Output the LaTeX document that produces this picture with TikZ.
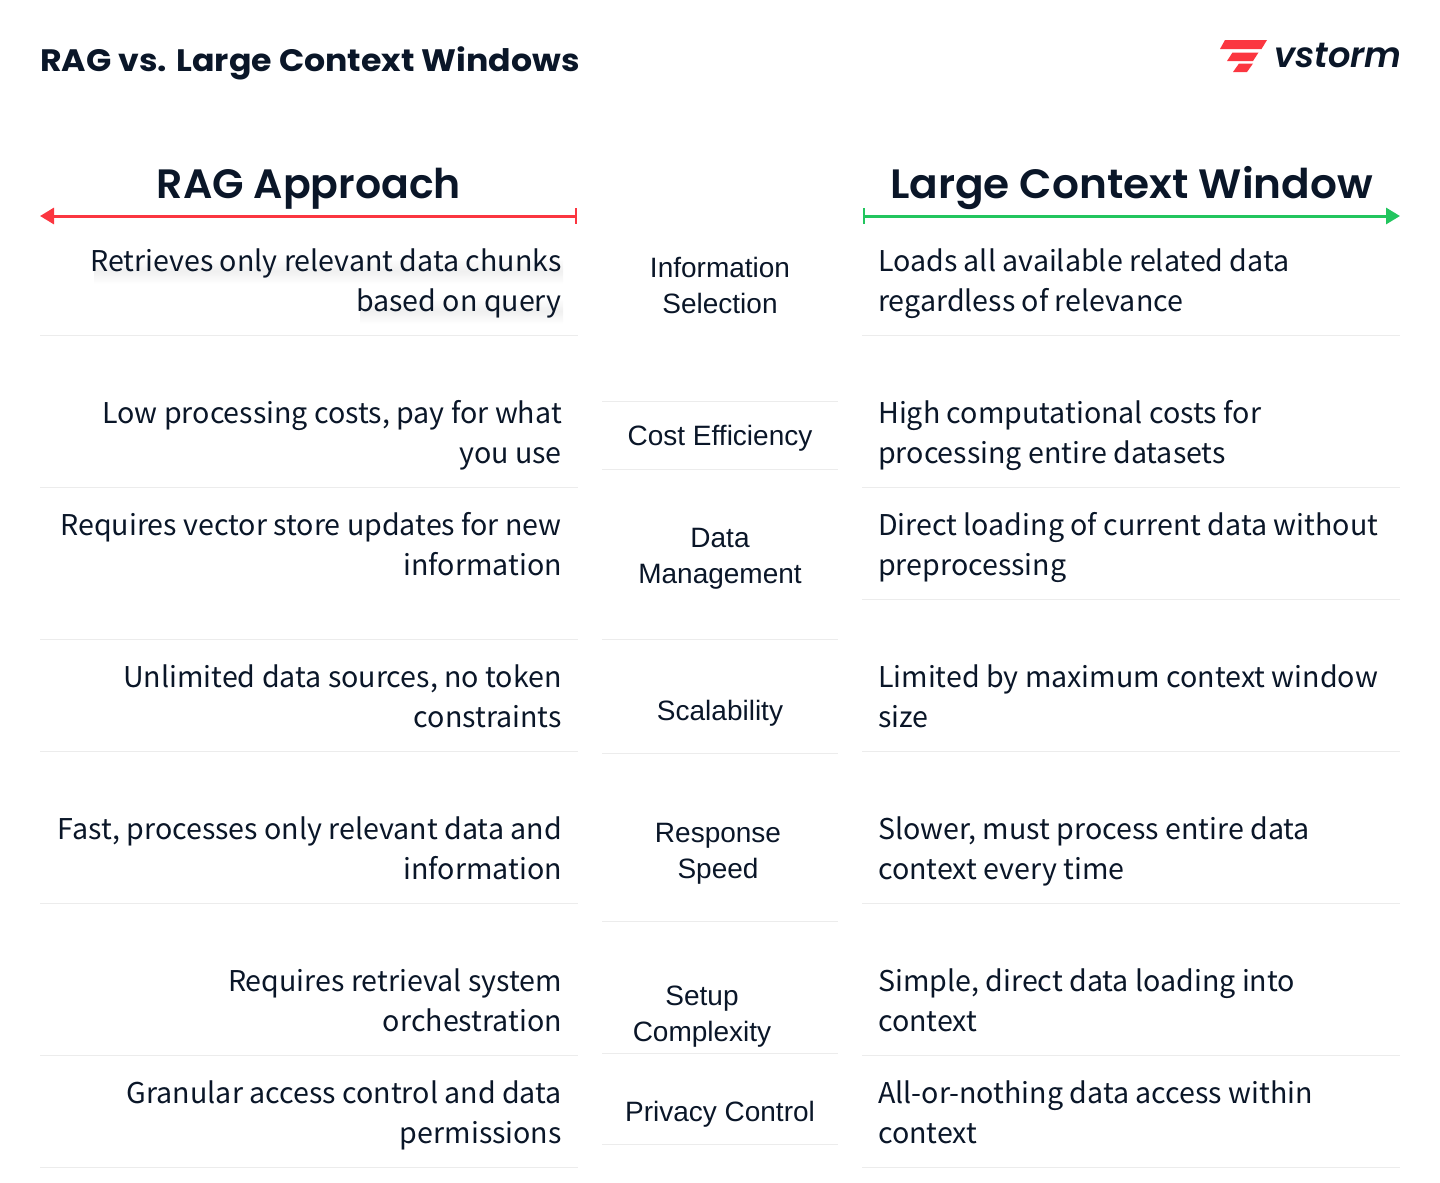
\documentclass[tikz,border=0pt]{standalone}
\usepackage{fontspec}
\usetikzlibrary{arrows.meta}
\setmainfont{Noto Sans CJK SC}
\newfontfamily\titlefont{Poppins}[BoldFont={Poppins Bold},BoldFeatures={FakeStretch=1.07}]
\newfontfamily\ragheadfont{Poppins}[BoldFont={Poppins SemiBold}]
\newfontfamily\lcwheadfont{Poppins}[BoldFont={Poppins SemiBold},BoldFeatures={FakeStretch=1.03}]
\newfontfamily\critfont{Liberation Sans}
\newfontfamily\logofont{Poppins}[ItalicFont={Poppins SemiBold Italic}]
\definecolor{inkblue}{HTML}{0A1628}
\definecolor{ragred}{HTML}{FB3640}
\definecolor{lcwgreen}{HTML}{22C55E}
\definecolor{rulegray}{HTML}{ECECEC}
\begin{document}
\begin{tikzpicture}[x=1pt,y=-1pt,>=Stealth,
    ragcell/.style={anchor=east,align=right,inner sep=0pt,text=inkblue,font=\fontsize{28.6}{40}\selectfont},
    lcwcell/.style={anchor=west,align=left,inner sep=0pt,text=inkblue,font=\fontsize{28.6}{40}\selectfont},
    critcell/.style={align=center,inner sep=0pt,text=inkblue,font=\critfont\fontsize{28}{36}\selectfont},
    headcell/.style={anchor=base,inner sep=0pt,text=inkblue},
    rowrule/.style={draw=rulegray,line width=1pt},
    every node/.append style={execute at begin node=\strut,execute at end node=\strut},
    softband/.style={top color=white,bottom color=white,middle color=black!6}]
        \useasboundingbox (0,0) rectangle (1440,1183);

        \node[anchor=base west,inner sep=0pt,text=inkblue,font=\titlefont\bfseries\fontsize{31}{36}\selectfont] (title) at (40,71) {RAG vs. Large Context Windows};

        \fill[ragred] (1225,40) -- (1267,40) -- (1261.5,49) -- (1220,49) -- cycle;
        \fill[ragred] (1232.5,52.5) -- (1258.5,52.5) -- (1253,61) -- (1227,61) -- cycle;
        \fill[ragred] (1239,63.5) -- (1253,63.5) -- (1247,72) -- (1233,72) -- cycle;
        \node[anchor=base west,inner sep=0pt,text=inkblue,font=\logofont\itshape\fontsize{35.2}{40}\selectfont] (logo) at (1274,67) {vstorm};

        \node[headcell,font=\ragheadfont\bfseries\fontsize{41}{48}\selectfont] (raghead) at (309,198) {RAG Approach};
        \node[headcell,font=\lcwheadfont\bfseries\fontsize{41}{48}\selectfont] (lcwhead) at (1131.5,198) {Large Context Window};
        \coordinate (ragleft) at (40,216);
        \coordinate (ragright) at (577,216);
        \coordinate (lcwleft) at (863,216);
        \coordinate (lcwright) at (1400,216);
        \draw[{Triangle[length=14pt,width=16pt]}-{Bar[width=16pt,line width=2pt]},ragred,line width=3pt] (ragleft) -- (ragright);
        \draw[{Bar[width=16pt,line width=2pt]}-{Triangle[length=14pt,width=16pt]},lcwgreen,line width=3pt] (lcwleft) -- (lcwright);

        % soft shadow under the first cell
        \shade[softband] (94,258) rectangle (563,284);
        \shade[softband] (360,298) rectangle (563,324);

        \node[ragcell] (rag1) at (562,286.5) {Retrieves only relevant data chunks\\based on query};
        \node[ragcell] (rag2) at (562,437.5) {Low processing costs, pay for what\\you use};
        \node[ragcell] (rag3) at (562,549.5) {Requires vector store updates for new\\information};
        \node[ragcell] (rag4) at (562,702.5) {Unlimited data sources, no token\\constraints};
        \node[ragcell] (rag5) at (562,854.5) {Fast, processes only relevant data and\\information};
        \node[ragcell] (rag6) at (562,1006.5) {Requires retrieval system\\orchestration};
        \node[ragcell] (rag7) at (562,1118.5) {Granular access control and data\\permissions};

        \node[critcell] (crit1) at (720,291) {Information\\Selection};
        \node[critcell] (crit2) at (720,438.5) {Cost Efficiency};
        \node[critcell] (crit3) at (720,561) {Data\\Management};
        \node[critcell] (crit4) at (720,713) {Scalability};
        \node[critcell] (crit5) at (718,856) {Response\\Speed};
        \node[critcell] (crit6) at (702,1019) {Setup\\Complexity};
        \node[critcell] (crit7) at (720,1114) {Privacy Control};

        \node[lcwcell] (lcw1) at (878,286.5) {Loads all available related data\\regardless of relevance};
        \node[lcwcell] (lcw2) at (878,437.5) {High computational costs for\\processing entire datasets};
        \node[lcwcell] (lcw3) at (878,549.5) {Direct loading of current data without\\preprocessing};
        \node[lcwcell] (lcw4) at (878,702.5) {Limited by maximum context window\\size};
        \node[lcwcell] (lcw5) at (878,854.5) {Slower, must process entire data\\context every time};
        \node[lcwcell] (lcw6) at (878,1006.5) {Simple, direct data loading into\\context};
        \node[lcwcell] (lcw7) at (878,1118.5) {All-or-nothing data access within\\context};

        % left column
        \draw[rowrule] (40,335.5) -- (578,335.5);
        \draw[rowrule] (40,487.5) -- (578,487.5);
        \draw[rowrule] (40,639.5) -- (578,639.5);
        \draw[rowrule] (40,751.5) -- (578,751.5);
        \draw[rowrule] (40,903.5) -- (578,903.5);
        \draw[rowrule] (40,1055.5) -- (578,1055.5);
        \draw[rowrule] (40,1167.5) -- (578,1167.5);

        % middle column
        \draw[rowrule] (602,401.5) -- (838,401.5);
        \draw[rowrule] (602,469.5) -- (838,469.5);
        \draw[rowrule] (602,639.5) -- (838,639.5);
        \draw[rowrule] (602,753.5) -- (838,753.5);
        \draw[rowrule] (602,921.5) -- (838,921.5);
        \draw[rowrule] (602,1053.5) -- (838,1053.5);
        \draw[rowrule] (602,1144.5) -- (838,1144.5);

        % right column
        \draw[rowrule] (862,335.5) -- (1400,335.5);
        \draw[rowrule] (862,487.5) -- (1400,487.5);
        \draw[rowrule] (862,599.5) -- (1400,599.5);
        \draw[rowrule] (862,751.5) -- (1400,751.5);
        \draw[rowrule] (862,903.5) -- (1400,903.5);
        \draw[rowrule] (862,1055.5) -- (1400,1055.5);
        \draw[rowrule] (862,1167.5) -- (1400,1167.5);
\end{tikzpicture}
\end{document}
